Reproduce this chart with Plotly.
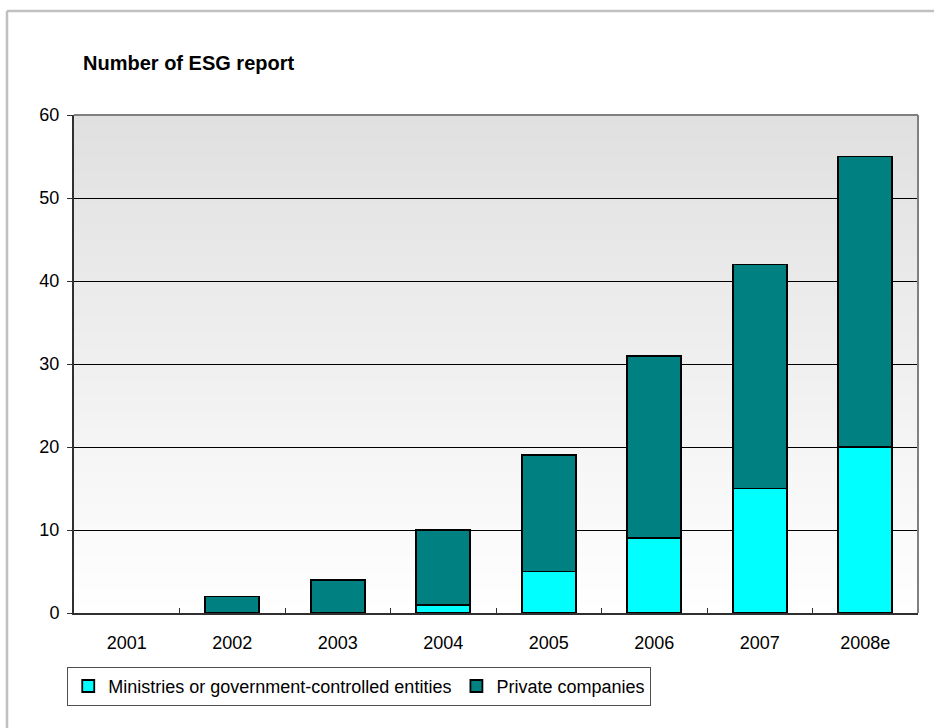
import plotly.graph_objects as go

years = ["2001", "2002", "2003", "2004", "2005", "2006", "2007", "2008e"]
ministries = [0, 0, 0, 1, 5, 9, 15, 20]
private = [0, 2, 4, 9, 14, 22, 27, 35]
y_ticks = [0, 10, 20, 30, 40, 50, 60]

FONT = "Liberation Sans, Arial, sans-serif"


def hide_zero(vals):
    return [v if v else None for v in vals]


fig = go.Figure()
fig.add_trace(go.Bar(
    x=years, y=hide_zero(ministries), name="Ministries or government-controlled entities",
    marker=dict(color="#00FFFF", line=dict(color="black", width=1.8)),
))
fig.add_trace(go.Bar(
    x=years, y=hide_zero(private), name="Private companies",
    marker=dict(color="#008080", line=dict(color="black", width=1.8)),
))

# gradient background of the plot area (grey at top -> white at bottom)
shapes = []
n = 60
for i in range(n):
    t = i / (n - 1)
    c = int(round(0xE0 + (0xFF - 0xE0) * (1 - t)))
    col = f"rgb({c},{c},{c})"
    y0 = i / n
    y1 = (i + 1) / n + 0.002
    shapes.append(dict(type="rect", xref="paper", yref="paper", x0=0, x1=1,
                       y0=y0, y1=min(y1, 1), fillcolor=col, line=dict(width=0),
                       layer="below"))
# plot area top / right border (grey)
shapes.append(dict(type="line", xref="paper", yref="paper", x0=0, x1=1, y0=1, y1=1,
                   line=dict(color="#808080", width=2), layer="above"))
shapes.append(dict(type="line", xref="paper", yref="paper", x0=1, x1=1, y0=0, y1=1,
                   line=dict(color="#808080", width=2), layer="above"))
# outer chart frame (light grey, top and left)
shapes.append(dict(type="line", xref="paper", yref="paper", x0=-0.0794, x1=1.03,
                   y0=1.2088, y1=1.2088, line=dict(color="#C0C0C0", width=2.5)))
shapes.append(dict(type="line", xref="paper", yref="paper", x0=-0.0794, x1=-0.0794,
                   y0=-0.25, y1=1.2088, line=dict(color="#C0C0C0", width=2.5)))

fig.update_layout(
    width=934, height=728,
    margin=dict(l=74, r=16, t=115, b=115),
    paper_bgcolor="white", plot_bgcolor="white",
    barmode="stack", bargap=0.49,
    font=dict(family=FONT, size=18, color="black"),
    title=dict(text="<b>Number of ESG report</b>", x=0.0107, xref="paper", xanchor="left",
               y=1 - 63 / 728, yref="container", yanchor="middle",
               font=dict(family=FONT, size=20, color="black")),
    xaxis=dict(type="category", showline=True, linecolor="#303030", linewidth=2,
               ticks="inside", tickson="boundaries", ticklen=5, tickcolor="#303030",
               tickwidth=1, showgrid=False, ticklabelstandoff=12,
               tickfont=dict(size=18)),
    yaxis=dict(range=[0, 60], tickvals=y_ticks, showline=True, linecolor="#303030",
               linewidth=2, ticks="outside", ticklen=5, tickcolor="#303030",
               showgrid=True, gridcolor="black", gridwidth=1, zeroline=False,
               tickfont=dict(size=18), ticklabelstandoff=4),
    legend=dict(orientation="h", x=-0.008, xanchor="left", y=-0.108, yanchor="top",
                bordercolor="#505050", borderwidth=1, bgcolor="white",
                font=dict(size=18), traceorder="normal"),
    shapes=shapes,
)

fig.write_html("out.html", config={"displayModeBar": False},
               post_script="document.body.style.margin='0';document.body.style.overflow='hidden';")
